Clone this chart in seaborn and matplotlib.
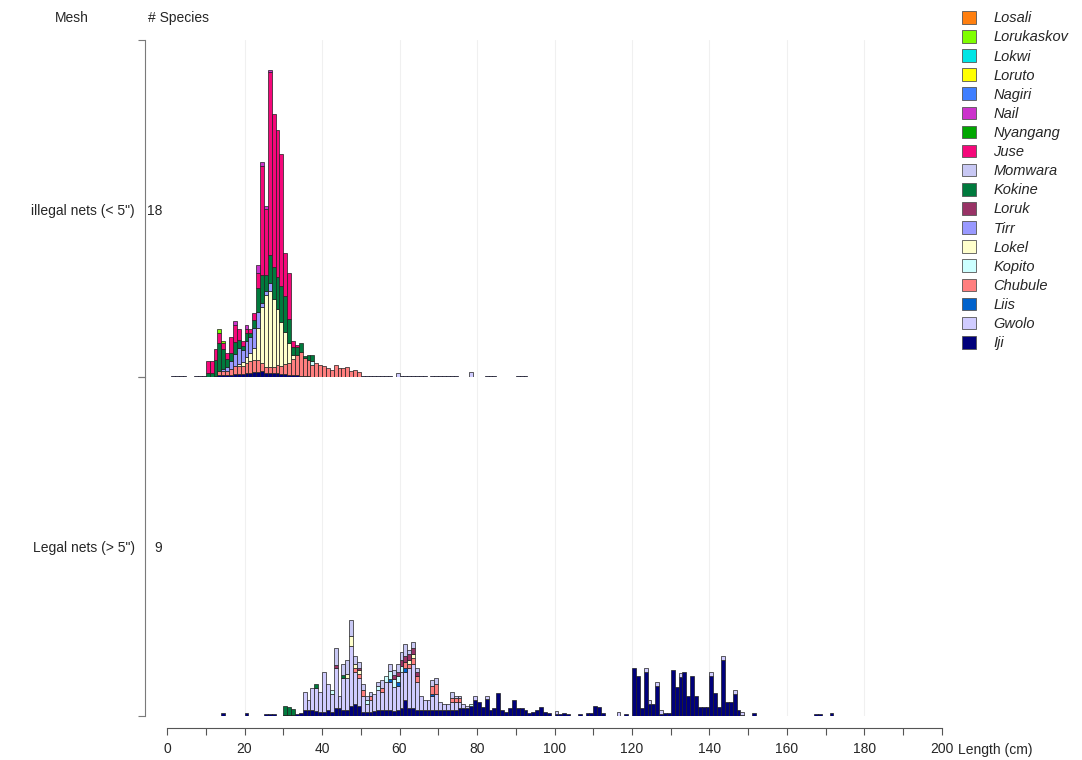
import numpy as np
import pandas as pd
import matplotlib
matplotlib.use("Agg")
import matplotlib.pyplot as plt
from matplotlib.patches import Patch
import seaborn as sns

# ===============================
# 1. SPECIES, COLOURS, LABELS
# ===============================
species = ['Losali', 'Lorukaskov', 'Lokwi', 'Loruto', 'Nagiri', 'Nail', 'Nyangang', 'Juse',
           'Momwara', 'Kokine', 'Loruk', 'Tirr', 'Lokel', 'Kopito', 'Chubule', 'Liis',
           'Gwolo', 'Iji']
colors = ['#ff7f0f', '#7fff00', '#00e5e5', '#ffff00', '#3f7fff', '#cc33cc', '#00a600', '#f5087a',
          '#c8c8f4', '#007a3d', '#993366', '#9999ff', '#ffffcc', '#ccffff', '#ff7f7f', '#0062cc',
          '#d0ccff', '#00007a']
mesh_labels = ['illegal nets (< 5")', 'Legal nets (> 5")']
n_species = ['18', '9']
x_ticks = [0, 20, 40, 60, 80, 100, 120, 140, 160, 180, 200]

# ===============================
# 2. ILLEGAL NETS (< 5") - 1 cm bins starting at 10 cm
# ===============================
top_start = 10
top_iji = [0, 0, 0.3, 0.5, 0.5, 0.5, 0.5, 0.8, 0.8, 0.8,
           1, 1, 1.2, 1.2, 1.5, 1, 1, 1, 1, 0.8,
           0.8, 0.6, 0.5, 0.5, 0.3, 0.3, 0.3, 0, 0, 0,
           0, 0, 0, 0, 0, 0, 0, 0, 0, 0]
top_chubule = [0, 0, 0, 1, 1, 1, 1.5, 2, 2, 2,
               2.5, 3, 3, 3, 2, 1.5, 1.5, 1.5, 2, 2,
               2.5, 3, 4, 5, 6, 4.5, 4, 3, 3.5, 3,
               2.7, 2.2, 1.8, 3, 2.2, 2.2, 2.4, 1.6, 1.8, 1.2]
top_lokel = [0, 0, 0, 0, 0, 0, 0, 0, 0.5, 1,
             1.5, 2, 3, 8, 14, 18, 19, 17, 14, 11,
             8, 5, 1, 0, 0, 0, 0, 0, 0, 0,
             0, 0, 0, 0, 0, 0, 0, 0, 0, 0]
top_tirr = [0, 0, 0, 0, 0.5, 1, 2, 3, 4, 3,
            4, 4, 5, 4, 1, 1, 2, 0, 0, 0,
            0, 0, 0, 0, 0, 0, 0, 0, 0, 0,
            0, 0, 0, 0, 0, 0, 0, 0, 0, 0]
top_kokine = [1, 1, 4, 7, 5, 2, 2, 3, 2, 1,
              2, 1, 2, 6, 7, 4, 7, 8, 8, 9,
              9, 6, 2, 2, 2.2, 0.5, 1.2, 1.5, 0, 0,
              0, 0, 0, 0, 0, 0, 0, 0, 0, 0]
top_nail = [0, 0, 0, 0, 0, 0, 0, 1, 0, 0,
            1, 0, 0, 2, 1, 1, 0.5, 0, 0, 0,
            0, 0, 0, 0, 0, 0, 0, 0, 0, 0,
            0, 0, 0, 0, 0, 0, 0, 0, 0, 0]
top_juse = [3, 3, 2.7, 2.5, 1.5, 1.5, 4, 4.2, 2.7, 1.2,
            1, 1, 1.8, 3.8, 27.5, 16.5, 46, 38.5, 37, 33.2,
            10.7, 11.4, 1.5, 0.5, 0, 0, 0, 0, 0, 0,
            0, 0, 0, 0, 0, 0, 0, 0, 0, 0]
top_lorukaskov_bins = [13, 14]
top_lorukaskov_vals = [1, 0.5]
top_kopito_bins = [37]
top_kopito_vals = [1]
top_gwolo_bins = [59, 78]
top_gwolo_vals = [1.0, 1.3]
# thin traces of Iji outside the main body
top_trace_bins = [1, 2, 3, 4, 7, 8, 9, 50, 51, 52, 53, 54, 55, 56, 57, 60, 61, 62, 63,
                  64, 65, 66, 68, 69, 70, 71, 72, 73, 74, 82, 83, 84, 90, 91, 92]
top_trace_vals = [0.3, 0.3, 0.3, 0.3, 0.3, 0.3, 0.3, 0.3, 0.3, 0.3, 0.3, 0.3, 0.3, 0.3, 0.3,
                  0.3, 0.3, 0.3, 0.3, 0.3, 0.3, 0.3, 0.3, 0.3, 0.3, 0.3, 0.3, 0.3, 0.3,
                  0.3, 0.3, 0.3, 0.3, 0.3, 0.3]

# ===============================
# 3. LEGAL NETS (> 5") - 1 cm bins starting at 30 cm
# ===============================
bot_start = 30
bot_iji = [0.3, 0.3, 0.3, 0.5, 0.8, 1.5, 1.5, 1.5, 1.2, 1,
           1, 1.5, 1, 2, 2, 1.5, 1.5, 2.5, 3, 2.5,
           1, 1, 1, 1.2, 1.5, 1.5, 1.5, 1.5, 1.2, 1.5,
           2, 4, 2, 2, 1.5, 1.5, 1.5, 1.5, 1.5, 1.5,
           1.5, 1.5, 1.5, 1.5, 1.5, 2, 2, 2, 2.5, 4,
           3.6, 2.3, 4.2, 1.5, 2, 5.7, 1.5, 1.1, 2, 4,
           2, 2, 1.5, 0.8, 1.1, 1.5, 2.2, 1.1, 0.8, 0,
           0.5, 0.5, 0.8, 0.5, 0, 0, 0.5, 0, 0.7, 0.7,
           2.5, 2.2, 0.7, 0, 0, 0, 0, 0, 0.5, 0,
           12, 10, 2, 11, 3, 3, 7.5, 0.5, 0.7, 0.7,
           11.5, 7.3, 9.7, 11, 5, 10, 5, 2.2, 2.2, 2.2,
           10, 5.7, 2.2, 14, 3.6, 3.6, 5.5, 1.5, 0.3, 0,
           0, 0.8]
bot_gwolo = [0, 0, 0, 0, 0, 4.5, 2.5, 5.5, 5.8, 5,
             10, 6.5, 4.5, 10, 3, 8, 8, 15, 8, 7,
             4, 2, 3, 4.3, 5, 4.5, 7, 7, 6, 6,
             9, 7, 10, 11, 7, 3.5, 2.5, 2.5, 3.5, 4,
             2, 1.5, 1.5, 2, 2, 1.5, 1, 0.5, 0, 1,
             0, 0, 0.8, 0, 0, 0, 0, 0, 0, 0,
             0, 0, 0, 0, 0, 0, 0, 0, 0, 0,
             0.8, 0, 0, 0, 0, 0, 0, 0, 0, 0,
             0, 0, 0, 0, 0, 0, 1.1, 0, 0, 0,
             0, 0, 0, 1, 1, 0, 1, 1, 0, 0,
             0, 0, 1, 0, 0, 0, 0, 0, 0, 0,
             1, 0, 0, 1, 0, 0, 1, 0, 0.6, 0,
             0, 0]
bot_momwara_bins = [43, 45, 46, 47, 48, 49, 50, 51, 52, 54, 55, 57, 58, 59, 60, 61, 62, 63,
                    64, 68, 69, 73, 74, 75]
bot_momwara_vals = [4.3, 2.7, 3.5, 4, 2, 1.5, 1.5, 1, 1, 1, 2, 1.7, 1.3, 2, 2, 3, 1, 1.5,
                    1, 1.5, 1.5, 1.5, 0.5, 0.5]
bot_kokine_bins = [30, 31, 32, 38, 45]
bot_kokine_vals = [2.2, 2, 1.5, 1, 0.8]
bot_lokel_bins = [46, 47, 48, 49, 62, 63]
bot_lokel_vals = [1, 2.5, 1, 1, 1, 1]
bot_chubule_bins = [48, 49, 50, 52, 55, 61, 62, 63, 64, 68, 69, 73, 74, 75]
bot_chubule_vals = [1, 1, 1.5, 1, 1, 1.5, 1, 1.5, 1.5, 2, 2.5, 1, 1, 1]
bot_kopito_bins = [42, 51, 54, 56, 57, 58, 59, 60, 78]
bot_kopito_vals = [1, 1, 1, 1.5, 2, 2, 1.5, 1.5, 0.5]
bot_loruk_bins = [43, 49, 58, 59, 60, 61, 62, 63, 64]
bot_loruk_vals = [0.7, 0.5, 1, 1, 1.5, 1.5, 1.5, 1.5, 1]
bot_liis_bins = [57, 59, 61, 68]
bot_liis_vals = [0.8, 1, 1, 0.5]
bot_trace_bins = [14, 20, 25, 26, 27, 167, 168, 171]
bot_trace_vals = [0.7, 0.7, 0.4, 0.4, 0.4, 0.5, 0.5, 0.8]

# ===============================
# 4. LONG TABLE FOR SEABORN
# ===============================
rows = []


def add_dense(panel, name, start, values):
    for i, v in enumerate(values):
        if v > 0:
            rows.append((panel, name, start + i + 0.5, v))


def add_sparse(panel, name, bins, values):
    for b, v in zip(bins, values):
        rows.append((panel, name, b + 0.5, v))


add_dense('illegal', 'Iji', top_start, top_iji)
add_dense('illegal', 'Chubule', top_start, top_chubule)
add_dense('illegal', 'Lokel', top_start, top_lokel)
add_dense('illegal', 'Tirr', top_start, top_tirr)
add_dense('illegal', 'Kokine', top_start, top_kokine)
add_dense('illegal', 'Nail', top_start, top_nail)
add_dense('illegal', 'Juse', top_start, top_juse)
add_sparse('illegal', 'Lorukaskov', top_lorukaskov_bins, top_lorukaskov_vals)
add_sparse('illegal', 'Kopito', top_kopito_bins, top_kopito_vals)
add_sparse('illegal', 'Gwolo', top_gwolo_bins, top_gwolo_vals)
add_sparse('illegal', 'Iji', top_trace_bins, top_trace_vals)

add_dense('legal', 'Iji', bot_start, bot_iji)
add_dense('legal', 'Gwolo', bot_start, bot_gwolo)
add_sparse('legal', 'Momwara', bot_momwara_bins, bot_momwara_vals)
add_sparse('legal', 'Kokine', bot_kokine_bins, bot_kokine_vals)
add_sparse('legal', 'Lokel', bot_lokel_bins, bot_lokel_vals)
add_sparse('legal', 'Chubule', bot_chubule_bins, bot_chubule_vals)
add_sparse('legal', 'Kopito', bot_kopito_bins, bot_kopito_vals)
add_sparse('legal', 'Loruk', bot_loruk_bins, bot_loruk_vals)
add_sparse('legal', 'Liis', bot_liis_bins, bot_liis_vals)
add_sparse('legal', 'Iji', bot_trace_bins, bot_trace_vals)

df = pd.DataFrame(rows, columns=['panel', 'species', 'length', 'count'])
palette = dict(zip(species, colors))

# ===============================
# 5. FIGURE
# ===============================
sns.set_style('white')
plt.rcParams['font.family'] = ['Liberation Sans', 'DejaVu Sans']

W, H = 1082, 760
fig = plt.figure(figsize=(W / 100, H / 100), dpi=100)


def fx(px):
    return px / W


def fy(py):
    return 1 - py / H


left, right = 167, 942
ax_top = fig.add_axes([fx(left), fy(377), fx(right - left), (377 - 40) / H])
ax_bot = fig.add_axes([fx(left), fy(716), fx(right - left), (716 - 377) / H])
ymax = 84.5

for ax, panel in [(ax_top, 'illegal'), (ax_bot, 'legal')]:
    sub = df[df['panel'] == panel]
    present = [s for s in species if s in set(sub['species'])]
    sns.histplot(data=sub, x='length', weights='count', hue='species',
                 hue_order=present, palette=palette, multiple='stack',
                 binwidth=1, binrange=(0, 200), alpha=1, edgecolor='#1e1e1e',
                 linewidth=0.5, legend=False, ax=ax)
    for p in ax.patches:
        if p.get_height() <= 0:
            p.set_visible(False)
    ax.set_xlim(0, 200)
    ax.set_ylim(0, ymax)
    ax.set_xlabel('')
    ax.set_ylabel('')
    for g in range(20, 200, 20):
        ax.axvline(g, color='#f0f0f0', lw=0.8, zorder=0)
    for s in ['top', 'right']:
        ax.spines[s].set_visible(False)
    ax.spines['left'].set_position(('outward', 22 * 0.72))
    ax.spines['left'].set_color('#7a7a7a')
    ax.set_yticks([0, ymax])
    ax.tick_params(axis='y', direction='out', length=5, color='#7a7a7a',
                   labelleft=False, left=True)
    ax.patch.set_alpha(0)

ax_top.spines['bottom'].set_visible(False)
ax_top.tick_params(axis='x', bottom=False, labelbottom=False)

ax_bot.spines['bottom'].set_position(('outward', 12 * 0.72))
ax_bot.spines['bottom'].set_color('#555555')
ax_bot.set_xticks(np.arange(0, 201, 10))
ax_bot.set_xticklabels([str(t) if t in x_ticks else '' for t in range(0, 201, 10)])
ax_bot.tick_params(axis='x', direction='out', length=5, color='#555555',
                   labelsize=10, pad=5, bottom=True)

# ===============================
# 6. TEXT AND LEGEND
# ===============================
fig.text(fx(72), fy(18), 'Mesh', ha='center', va='center', fontsize=10)
fig.text(fx(178), fy(18), '# Species', ha='center', va='center', fontsize=10)
fig.text(fx(135), fy(211), mesh_labels[0], ha='right', va='center', fontsize=10)
fig.text(fx(147), fy(211), n_species[0], ha='left', va='center', fontsize=10)
fig.text(fx(135), fy(548), mesh_labels[1], ha='right', va='center', fontsize=10)
fig.text(fx(154), fy(548), n_species[1], ha='left', va='center', fontsize=10)
fig.text(fx(958), fy(750), 'Length (cm)', ha='left', va='center', fontsize=10)

handles = [Patch(facecolor=c, edgecolor='#555555', linewidth=0.6, label=s)
           for s, c in zip(species, colors)]
fig.legend(handles=handles, loc='upper left', bbox_to_anchor=(fx(962), fy(11)),
           frameon=False, prop={'style': 'italic', 'size': 10.5},
           handlelength=0.95, handleheight=0.95, handletextpad=1.2,
           labelspacing=0.33, borderaxespad=0, borderpad=0)

plt.savefig('out.png', dpi=100)
